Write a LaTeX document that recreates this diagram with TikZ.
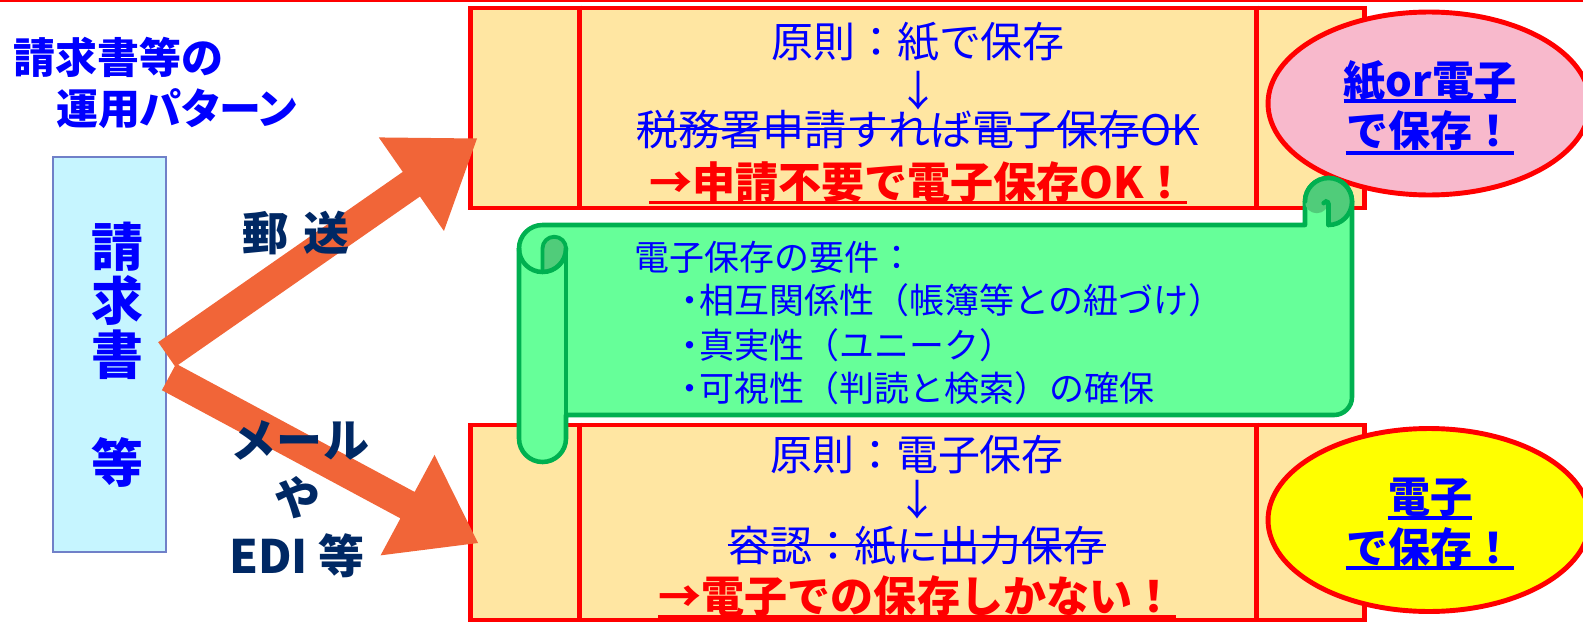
\documentclass[tikz,border=0pt]{standalone}
\usepackage{fontspec}
\setmainfont{Noto Sans CJK JP}
\newfontfamily\jpalt{Noto Sans CJK JP}[RawFeature=+palt]
\usetikzlibrary{calc,shapes.geometric}
\definecolor{txtblue}{RGB}{0,0,255}
\definecolor{navy}{RGB}{0,40,100}
\definecolor{boxfill}{RGB}{255,230,162}
\definecolor{docfill}{RGB}{198,245,255}
\definecolor{docline}{RGB}{112,128,200}
\definecolor{arrowor}{RGB}{241,101,56}
\definecolor{scrfill}{RGB}{102,255,153}
\definecolor{scrdark}{RGB}{80,204,122}
\definecolor{scrline}{RGB}{0,176,80}
\definecolor{pinkfill}{RGB}{248,185,204}
\definecolor{yelfill}{RGB}{255,255,0}
\newcommand\fsz[1]{\fontsize{#1}{#1}\selectfont}
\newcommand\bul{\makebox[0.55em][c]{・}}
\newcommand\fatarrow[2]{%
  \path ($(#2)!1.6cm!(#1)$) coordinate (#1b);
  \fill[arrowor] ($(#1)!0.3cm!90:(#2)$) -- ($(#1b)!0.3cm!90:(#2)$) -- ($(#1b)!1.14cm!90:(#2)$)
    -- (#2) -- ($(#1b)!1.14cm!-90:(#2)$) -- ($(#1b)!0.3cm!-90:(#2)$) -- ($(#1)!0.3cm!-90:(#2)$) -- cycle;}
\begin{document}
\begin{tikzpicture}[x=0.02cm,y=0.02cm,
  redframe/.style={draw=red, line width=2.8pt, fill=boxfill, inner sep=0pt},
  redline/.style={draw=red, line width=2.8pt},
  txt/.style={inner sep=0pt, anchor=base},
  bluereg/.style={txt, text=txtblue, font=\fsz{23.9}},
  redbold/.style={txt, text=red, font=\bfseries\fsz{24.5}},
  ovaltxt/.style={txt, text=txtblue, font=\bfseries\fsz{23.9}},
  scrtxt/.style={inner sep=0pt, anchor=base west, text=txtblue, font=\fsz{19.9}},
  lbl/.style={txt, text=navy, font=\bfseries\fsz{26.2}},
  title/.style={inner sep=0pt, anchor=base west, text=txtblue, font=\bfseries\fsz{23.9}},
  strike/.style={draw=txtblue, line width=1.4pt},
  uline/.style={line width=1.8pt},
  scr/.style={draw=scrline, line width=2.6pt, fill=scrfill, line join=round},
  scrcurl/.style={draw=scrline, line width=2.2pt, fill=scrdark, line join=round},
  scrstroke/.style={draw=scrline, line width=2.6pt, line cap=round},
  oval/.style={ellipse, draw=red, line width=2.8pt, inner sep=0pt, minimum width=6.44cm, minimum height=3.66cm}
]
\useasboundingbox (0,0) rectangle (1583,-622);
\draw[red, line width=1.2pt] (0,-1) -- (1583,-1);

% title
\node[title] (ttl1) at (13,-73) {請求書等の};
\node[title] (ttl2) at (56,-124) {{\jpalt\bfseries 運用パターン}};

% document box
\node[draw=docline, line width=0.9pt, fill=docfill, minimum width=2.26cm, minimum height=7.9cm, inner sep=0pt] (doc) at (109.5,-354.5) {};
\node[inner sep=0pt, text=txtblue, align=center, font=\bfseries\fontsize{29.6}{30.73}\selectfont] (doctxt) at (117.5,-355) {請\\求\\書\\\mbox{}\\等};

% boxes
\node[redframe, minimum width=17.9cm, minimum height=4cm] (topbox) at (917.5,-108) {};
\draw[redline] ($(topbox.north west)+(112,0)$) -- ($(topbox.south west)+(112,0)$);
\draw[redline] ($(topbox.north east)+(-111,0)$) -- ($(topbox.south east)+(-111,0)$);
\node[redframe, minimum width=17.9cm, minimum height=3.9cm] (botbox) at (917.5,-522.5) {};
\draw[redline] ($(botbox.north west)+(112,0)$) -- ($(botbox.south west)+(112,0)$);
\draw[redline] ($(botbox.north east)+(-111,0)$) -- ($(botbox.south east)+(-111,0)$);

% top box texts
\node[bluereg] (a1) at (918,-57) {原則：紙で保存};
\node[bluereg, text depth=0pt] (a2) at (918,-106) {↓};
\node[bluereg] (a3) at (918,-145) {税務署申請すれば電子保存OK};
\draw[strike] ($(a3.base west)+(0,16)$) -- ($(a3.base east)+(0,16)$);
\node[redbold] (a4) at (918,-198) {→申請不要で電子保存OK！};
\draw[uline, red] ($(a4.base west)+(0,-4.5)$) -- ($(a4.base east)+(0,-4.5)$);

% bottom box texts
\node[bluereg] (b1) at (917,-470) {原則：電子保存};
\node[bluereg, text depth=0pt] (b2) at (917,-515) {↓};
\node[bluereg] (b3) at (917,-561) {容認：紙に出力保存};
\draw[strike] ($(b3.base west)+(0,16)$) -- ($(b3.base east)+(0,16)$);
\node[redbold] (b4) at (917,-612) {→電子での保存しかない！};
\draw[uline, red] ($(b4.base west)+(0,-4.5)$) -- ($(b4.base east)+(0,-4.5)$);

% ovals
\node[oval, fill=pinkfill] (paper) at (1429,-103.5) {};
\node[ovaltxt] (p1) at (1430,-96) {紙or電子};
\draw[uline, txtblue] ($(p1.base west)+(0,-5)$) -- ($(p1.base east)+(0,-5)$);
\node[ovaltxt] (p2) at (1430,-146) {で保存！};
\draw[uline, txtblue] ($(p2.base west)+(0,-7)$) -- ($(p2.base east)+(0,-7)$);
\node[oval, fill=yelfill] (elec) at (1429,-520) {};
\node[ovaltxt] (e1) at (1430,-512) {電子};
\draw[uline, txtblue] ($(e1.base west)+(0,-6)$) -- ($(e1.base east)+(0,-6)$);
\node[ovaltxt] (e2) at (1430,-563) {で保存！};
\draw[uline, txtblue] ($(e2.base west)+(0,-5)$) -- ($(e2.base east)+(0,-5)$);

% arrows
\coordinate (t1) at (doc.east);
\coordinate (h1) at (477,-138.5);
\coordinate (t2) at (169,-377);
\coordinate (h2) at (478,-543);
\fatarrow{t1}{h1}
\fatarrow{t2}{h2}

% labels
\node[lbl] (l1) at (296,-250.5) {郵\hspace{0.33em}送};
\node[lbl] (l2) at (300,-457.5) {メール};
\node[lbl] (l3) at (298,-515.5) {や};
\node[lbl] (l4) at (297,-573.5) {EDI 等};

% scroll
\filldraw[scr] (566,-225) -- (1305,-225) -- (1305,-201.5) arc[start angle=180,end angle=0,radius=23.5]
  -- (1352,-397) arc[start angle=0,end angle=-90,radius=18] -- (566,-415) -- (566,-438.5)
  arc[start angle=0,end angle=-180,radius=23.5] -- (519,-248.5) arc[start angle=180,end angle=90,radius=23.5] -- cycle;
\filldraw[scrcurl] (542.5,-248.5) arc[start angle=180,end angle=0,radius=11.75] arc[start angle=0,end angle=-90,radius=23.5] -- cycle;
\draw[scrstroke] (519,-248.5) arc[start angle=180,end angle=360,radius=23.5];
\draw[scrstroke] (566,-248.5) -- (566,-415);
\fill[scrdark] (1305,-201.5) arc[start angle=180,end angle=-90,radius=23.5] -- (1328.5,-201.5) arc[start angle=0,end angle=-180,radius=11.75] -- cycle;
\draw[scrstroke] (1305,-201.5) arc[start angle=180,end angle=-90,radius=23.5];
\draw[scrstroke] (1328.5,-225) -- (1328.5,-204) arc[start angle=0,end angle=160,radius=2.5];

\node[scrtxt] (r0) at (634,-270) {電子保存の要件：};
\node[scrtxt] (r1) at (680,-313) {\bul 相互関係性（帳簿等との紐づけ）};
\node[scrtxt] (r2) at (680,-358) {\bul 真実性（ユニーク）};
\node[scrtxt] (r3) at (680,-401) {\bul 可視性（判読と検索）の確保};
\end{tikzpicture}
\end{document}
